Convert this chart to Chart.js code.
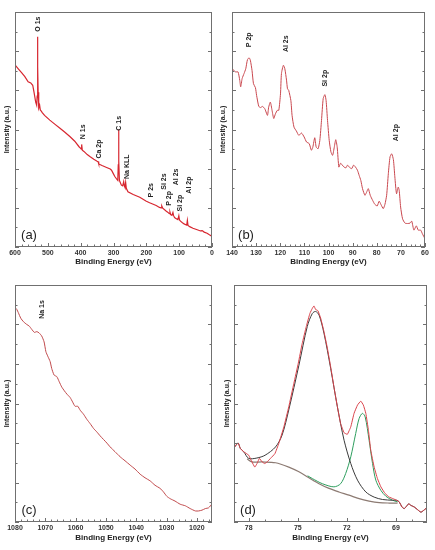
<!DOCTYPE html>
<html>
<head>
<meta charset="utf-8">
<script src="https://cdn.jsdelivr.net/npm/chart.js@4.4.0/dist/chart.umd.min.js"></script>
<style>
  html, body { margin: 0; padding: 0; background: #fff; }
  #wrap { position: relative; width: 435px; height: 550px; }
  .panel { position: absolute; }
</style>
</head>
<body>
<div id="wrap">
  <div class="panel" style="left:0;top:0;width:217px;height:270px"><canvas id="chartA"></canvas></div>
  <div class="panel" style="left:217px;top:0;width:218px;height:270px"><canvas id="chartB"></canvas></div>
  <div class="panel" style="left:0;top:270px;width:217px;height:280px"><canvas id="chartC"></canvas></div>
  <div class="panel" style="left:217px;top:270px;width:218px;height:280px"><canvas id="chartD"></canvas></div>
</div>
<script>
// XPS spectra: survey (a), 140-60 eV detail (b), Na 1s region (c), Al 2p fit (d)

// (a) survey
const aEnergy = [600, 590, 580, 570, 560, 552, 546, 542, 537, 534, 532.5, 531.5, 531, 530.5, 529.5, 528.5, 527, 525, 523, 520, 517, 510, 494, 478, 463, 448, 433, 418, 405, 400, 398, 397, 395, 390, 380, 372, 360, 350, 347, 345, 335, 321, 310, 306, 301, 296, 290, 287, 285.5, 284.5, 283.5, 282, 280, 276, 272, 269, 267, 265, 263, 261, 256, 240, 220, 200, 190, 170, 160, 155, 153, 150, 140, 135, 130, 128, 126, 122, 119, 117, 114, 110, 104, 101, 99, 96, 90, 85, 80, 77, 75, 73, 68, 58, 45, 35, 30, 27, 24, 15, 8, 2, 0];
const aCounts = [4.65, 4.55, 4.45, 4.35, 4.22, 4.19, 4.13, 3.95, 3.70, 3.62, 3.85, 5.30, 5.37, 4.60, 3.95, 3.75, 3.55, 3.62, 3.50, 3.47, 3.43, 3.36, 3.24, 3.13, 3.03, 2.93, 2.82, 2.70, 2.56, 2.52, 2.50, 2.62, 2.47, 2.44, 2.36, 2.31, 2.24, 2.19, 2.18, 2.12, 2.08, 2.03, 1.99, 1.96, 1.88, 1.80, 1.73, 1.70, 2.10, 3.00, 2.20, 1.70, 1.66, 1.58, 1.56, 1.67, 1.56, 1.52, 1.65, 1.50, 1.41, 1.34, 1.27, 1.17, 1.13, 1.06, 1.01, 1.00, 1.05, 0.99, 0.92, 0.89, 0.85, 0.89, 0.83, 0.81, 0.88, 0.80, 0.75, 0.73, 0.70, 0.80, 0.69, 0.66, 0.62, 0.59, 0.57, 0.56, 0.68, 0.55, 0.52, 0.48, 0.44, 0.41, 0.42, 0.40, 0.38, 0.35, 0.31, 0.28, 0.25];
const aPeakNames = ['O 1s', 'N 1s', 'Ca 2p', 'C 1s', 'Na KLL', 'P 2s', 'Si 2s', 'P 2p', 'Al 2s', 'Si 2p', 'Al 2p'];
const aPeakE = [531, 394, 345, 283, 259, 185, 146, 132, 108, 98, 70];
const aPeakV = [5.69, 2.94, 2.50, 3.16, 2.05, 1.45, 1.67, 1.24, 1.79, 1.12, 1.58];

// (b) 140-60 eV
const bEnergy = [140, 139.2, 138.5, 137.5, 136.8, 136.4, 135.8, 135, 134.3, 133.6, 132.9, 132.4, 131.7, 131.1, 130.3, 129.8, 128.9, 128.1, 127.4, 126.4, 125.3, 124.8, 124.1, 123.4, 122.7, 122, 121.2, 120.6, 119.9, 119.5, 118.7, 118.1, 117.4, 117, 116.5, 115.6, 115.1, 114.3, 113.3, 112.3, 111.2, 110.1, 109.1, 108, 107.1, 106.5, 105.7, 105.1, 104.3, 103.6, 102.9, 102.2, 101.5, 101, 100.4, 99.7, 99, 98.3, 97.6, 97, 96.4, 95.7, 95, 94.3, 93.5, 92.8, 92.1, 91.4, 90.4, 89.6, 88.8, 88, 87.3, 86.6, 85.9, 84.9, 84.2, 83.5, 82.7, 81.7, 80.8, 79.8, 79, 78.3, 77.3, 76.6, 75.9, 75.2, 74.5, 73.8, 73.1, 72.5, 71.8, 71.1, 70.7, 70.1, 69.3, 68.3, 67.2, 66.2, 65.5, 64.6, 63.6, 62.8, 61.8, 61.1, 60];
const bCounts = [4.55, 4.51, 4.47, 4.47, 4.26, 4.09, 4.30, 4.43, 4.55, 4.78, 4.83, 4.77, 4.51, 4.17, 4.07, 3.87, 3.59, 3.56, 3.59, 3.53, 3.36, 3.57, 3.70, 3.49, 3.28, 3.40, 3.49, 3.49, 3.91, 4.43, 4.64, 4.55, 4.26, 4.04, 4.00, 3.74, 3.36, 3.06, 2.96, 2.85, 2.91, 2.81, 2.68, 2.64, 2.47, 2.55, 2.79, 2.55, 2.51, 2.72, 3.23, 3.79, 3.89, 3.74, 3.23, 2.72, 2.43, 2.34, 2.55, 2.74, 2.55, 2.04, 2.14, 2.09, 2.04, 2.02, 2.09, 2.04, 2.00, 2.09, 2.04, 1.96, 1.83, 1.70, 1.49, 1.32, 1.40, 1.49, 1.32, 1.19, 1.09, 1.05, 1.17, 1.09, 0.98, 1.09, 1.32, 1.87, 2.30, 2.38, 2.23, 1.79, 1.36, 1.53, 1.45, 1.02, 0.72, 0.61, 0.60, 0.61, 0.66, 0.43, 0.54, 0.43, 0.43, 0.34, 0.21];
const bPeakNames = ['P 2p', 'Al 2s', 'Si 2p', 'Al 2p'];
const bPeakE = [132.9, 117.7, 101.5, 71.8];
const bPeakV = [5.29, 5.19, 4.31, 2.92];

// (c) Na 1s region
const cEnergy = [1080, 1079.4, 1078.9, 1078.1, 1077.2, 1076.1, 1075.3, 1074.5, 1073.6, 1072.8, 1072.1, 1071.2, 1070.4, 1069.8, 1069.2, 1068.4, 1067.9, 1067.1, 1066.2, 1065.4, 1064.6, 1063.7, 1062.9, 1061.8, 1061, 1060.2, 1059.3, 1058.5, 1057.4, 1056.3, 1055.2, 1054.1, 1053, 1051.9, 1050.8, 1049.7, 1048.6, 1047, 1045.3, 1043.7, 1042, 1040.4, 1038.7, 1037.1, 1035.4, 1033.8, 1032.1, 1031, 1029.9, 1028.8, 1027.2, 1025.5, 1023.8, 1022.2, 1020.5, 1019.4, 1018.3, 1017.2, 1016.1, 1015];
const cCounts = [5.43, 5.38, 5.30, 5.16, 5.07, 5.00, 4.96, 4.88, 4.80, 4.82, 4.79, 4.71, 4.56, 4.31, 4.20, 4.06, 3.89, 3.72, 3.68, 3.55, 3.42, 3.32, 3.24, 3.15, 3.04, 2.93, 2.93, 2.83, 2.73, 2.60, 2.49, 2.37, 2.28, 2.18, 2.09, 2.00, 1.90, 1.78, 1.65, 1.55, 1.44, 1.34, 1.21, 1.12, 1.04, 0.93, 0.85, 0.76, 0.65, 0.59, 0.53, 0.45, 0.41, 0.34, 0.28, 0.28, 0.30, 0.34, 0.36, 0.46];
const cPeakNames = ['Na 1s'];
const cPeakE = [1071];
const cPeakV = [5.38];

// (d) Al 2p with fit
const dEnergy = [78.86, 78.65, 78.51, 78.31, 78, 77.8, 77.63, 77.49, 77.35, 77.18, 77.02, 76.88, 76.67, 76.4, 76.16, 75.85, 75.55, 75.24, 74.97, 74.73, 74.48, 74.26, 74.11, 74.01, 73.91, 73.77, 73.6, 73.4, 73.19, 72.99, 72.79, 72.58, 72.38, 72.17, 71.97, 71.76, 71.56, 71.35, 71.15, 70.99, 70.84, 70.68, 70.54, 70.33, 70.13, 69.92, 69.66, 69.41, 69.17, 68.96, 68.8, 68.63, 68.49, 68.35, 68.22, 68.08, 67.88, 67.67, 67.47, 67.26, 67.06];
const dCounts = [1.90, 2.00, 1.86, 1.78, 1.69, 1.52, 1.39, 1.48, 1.61, 1.52, 1.48, 1.52, 1.61, 1.73, 1.99, 2.41, 2.92, 3.51, 4.02, 4.52, 4.95, 5.28, 5.41, 5.47, 5.38, 5.35, 5.16, 4.82, 4.40, 3.93, 3.42, 2.92, 2.49, 2.26, 2.22, 2.41, 2.75, 2.96, 3.06, 2.96, 2.75, 2.32, 1.82, 1.39, 1.10, 0.89, 0.72, 0.63, 0.59, 0.55, 0.51, 0.38, 0.34, 0.40, 0.46, 0.42, 0.38, 0.31, 0.25, 0.31, 0.38];
const fit1Energy = [78.86, 78.65, 78.51, 78.31, 78, 77.5, 77, 76.36, 75.96, 75.55, 74.93, 74.42, 74.11, 73.91, 73.7, 73.4, 72.99, 72.58, 72.17, 71.76, 71.35, 70.84, 70.33, 69.82, 69.2, 68.96, 68.8, 68.63, 68.49, 68.35, 68.22, 68.08, 67.88, 67.67, 67.47, 67.26, 67.06];
const fit1Counts = [1.90, 2.00, 1.86, 1.78, 1.61, 1.62, 1.69, 1.90, 2.20, 2.84, 3.97, 4.95, 5.28, 5.33, 5.24, 4.78, 3.89, 2.92, 2.07, 1.48, 1.06, 0.76, 0.63, 0.57, 0.55, 0.55, 0.51, 0.38, 0.34, 0.40, 0.46, 0.42, 0.38, 0.31, 0.25, 0.31, 0.38];
const fit2Energy = [74.4, 74.11, 73.5, 72.79, 72.38, 72.07, 71.76, 71.46, 71.25, 71.05, 70.88, 70.64, 70.43, 70.23, 69.92, 69.61, 69.2, 68.9];
const fit2Counts = [1.17, 1.10, 0.97, 0.89, 0.97, 1.23, 1.65, 2.24, 2.62, 2.75, 2.66, 2.07, 1.48, 1.06, 0.80, 0.65, 0.55, 0.51];
const bgEnergy = [78.1, 77.8, 77.18, 76.36, 75.55, 74.93, 74.32, 73.7, 73.09, 72.48, 71.87, 71.25, 70.64, 70.02, 69.41, 68.9];
const bgCounts = [1.60, 1.52, 1.52, 1.50, 1.39, 1.27, 1.12, 0.97, 0.85, 0.76, 0.68, 0.59, 0.53, 0.49, 0.48, 0.48];

const boldFont = (size) => ({ family: 'Liberation Sans', size: size, weight: 'bold' });

function isStep(v, s) {
  const r = v / s;
  return Math.abs(r - Math.round(r)) < 1e-6;
}

function points(xs, ys) {
  return xs.map((x, i) => ({ x: x, y: ys[i] }));
}

// frame, inward ticks, peak names and panel letter
const frameTicks = {
  id: 'frameTicks',
  afterDatasetsDraw(chart, args, opts) {
    const { ctx, chartArea: a, scales: { x, y } } = chart;
    ctx.save();
    ctx.strokeStyle = '#707070';
    ctx.lineWidth = 1;
    ctx.strokeRect(a.left + 0.5, a.top + 0.5, a.width - 1, a.height - 1);
    ctx.beginPath();
    x.ticks.forEach(t => {
      if (!isStep(t.value, opts.xMinor)) return;
      const px = Math.round(x.getPixelForValue(t.value)) + 0.5;
      const len = isStep(t.value, opts.xMajor) ? 4 : 2.5;
      ctx.moveTo(px, a.bottom);
      ctx.lineTo(px, a.bottom - len);
    });
    y.ticks.forEach(t => {
      if (!isStep(t.value, 0.5)) return;
      const py = Math.round(y.getPixelForValue(t.value)) + 0.5;
      const len = isStep(t.value, 1) ? 4 : 2.5;
      ctx.moveTo(a.left, py);
      ctx.lineTo(a.left + len, py);
      ctx.moveTo(a.right, py);
      ctx.lineTo(a.right - len, py);
    });
    ctx.stroke();

    ctx.fillStyle = '#222';
    ctx.font = 'bold 7px "Liberation Sans"';
    ctx.textAlign = 'center';
    ctx.textBaseline = 'middle';
    (opts.names || []).forEach((n, i) => {
      ctx.save();
      ctx.translate(x.getPixelForValue(opts.energies[i]), y.getPixelForValue(opts.heights[i]));
      ctx.rotate(-Math.PI / 2);
      ctx.fillText(n, 0, 0);
      ctx.restore();
    });

    ctx.font = '13px "Liberation Sans"';
    ctx.fillText(opts.letter, a.left + 14, a.bottom - 12);
    ctx.restore();
  }
};

function xAxis(min, max, minor, major, height, labelPad, titlePad) {
  return {
    type: 'linear', reverse: true, min: min, max: max,
    grid: { display: false, drawTicks: false },
    border: { display: false },
    ticks: {
      stepSize: minor, autoSkip: false, includeBounds: false, maxRotation: 0, padding: labelPad,
      color: '#333', font: boldFont(7),
      callback: v => isStep(v, major) ? String(Math.round(v)) : ''
    },
    title: { display: true, text: 'Binding Energy (eV)', color: '#222', font: boldFont(8), padding: { top: 0, bottom: titlePad } },
    afterFit: s => { s.height = height; }
  };
}

function yAxis(width, titlePad) {
  return {
    min: 0, max: 6,
    grid: { display: false, drawTicks: false },
    border: { display: false },
    ticks: { display: false, stepSize: 0.5 },
    title: { display: true, text: 'Intensity (a.u.)', color: '#222', font: boldFont(7), padding: { top: titlePad, bottom: 0 } },
    afterFit: s => { s.width = width; }
  };
}

function line(data, color, width, tension) {
  return { data: data, borderColor: color, borderWidth: width, pointRadius: 0, tension: tension, fill: false };
}

function makeChart(id, datasets, x, y, padding, tickOpts) {
  return new Chart(document.getElementById(id), {
    type: 'line',
    data: { datasets: datasets },
    options: {
      responsive: true, maintainAspectRatio: false, animation: false,
      layout: { padding: padding },
      plugins: { legend: { display: false }, tooltip: { enabled: false }, frameTicks: tickOpts },
      scales: { x: x, y: y }
    },
    plugins: [frameTicks]
  });
}

makeChart('chartA',
  [line(points(aEnergy, aCounts), '#d7262f', 1.2, 0)],
  xAxis(0, 600, 20, 100, 23, 1.5, 3), yAxis(15, 2.8),
  { top: 12, right: 5, left: 0, bottom: 0 },
  { xMinor: 20, xMajor: 100, names: aPeakNames, energies: aPeakE, heights: aPeakV, letter: '(a)' });

makeChart('chartB',
  [line(points(bEnergy, bCounts), '#c9474e', 1, 0.2)],
  xAxis(60, 140, 2, 10, 23, 1.5, 3), yAxis(15, 2.1),
  { top: 12, right: 10, left: 0, bottom: 0 },
  { xMinor: 2, xMajor: 10, names: bPeakNames, energies: bPeakE, heights: bPeakV, letter: '(b)' });

makeChart('chartC',
  [line(points(cEnergy, cCounts), '#c0494b', 1, 0.2)],
  xAxis(1015, 1080, 2, 10, 22, 2, 1.2), yAxis(15, 2.8),
  { top: 15, right: 5, left: 0, bottom: 6 },
  { xMinor: 2, xMajor: 10, names: cPeakNames, energies: cPeakE, heights: cPeakV, letter: '(c)' });

makeChart('chartD',
  [
    line(points(dEnergy, dCounts), '#d9424a', 1, 0.1),
    line(points(fit1Energy, fit1Counts), '#3a3a3a', 1, 0.3),
    line(points(fit2Energy, fit2Counts), '#2e9e5e', 1, 0.3),
    line(points(bgEnergy, bgCounts), '#8c7a72', 1.2, 0.3)
  ],
  xAxis(67.1, 78.9, 1, 3, 22, 2, 1.2), yAxis(17, 5.5),
  { top: 15, right: 8, left: 0, bottom: 6 },
  { xMinor: 1, xMajor: 3, names: [], energies: [], heights: [], letter: '(d)' });
</script>
</body>
</html>
